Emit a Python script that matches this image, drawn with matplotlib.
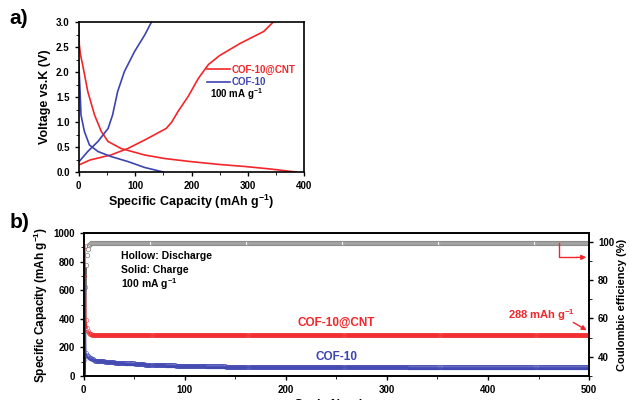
import matplotlib
matplotlib.use('Agg')
import matplotlib.pyplot as plt
from matplotlib.ticker import MultipleLocator

plt.rcParams['font.family'] = ['Liberation Sans', 'DejaVu Sans']
plt.rcParams['font.weight'] = 'bold'
plt.rcParams['mathtext.fontset'] = 'custom'
plt.rcParams['mathtext.bf'] = 'Liberation Sans:bold'
plt.rcParams['mathtext.rm'] = 'Liberation Sans:bold'
plt.rcParams['mathtext.default'] = 'rm'

RED = '#f2262a'
BLUE = '#3d44b0'
GRAY = '#808080'

# ---- panel a: voltage profiles ----
cnt_dis_x = [0, 1, 3, 7, 16, 28, 40, 52, 75, 117, 152, 197, 250, 295, 340, 385]
cnt_dis_v = [3.0, 2.55, 2.35, 2.14, 1.61, 1.14, 0.81, 0.61, 0.47, 0.34, 0.27, 0.21, 0.15, 0.11, 0.06, 0.0]
cnt_chg_x = [0, 20, 57, 87, 117, 155, 165, 176, 194, 212, 230, 250, 286, 328, 345]
cnt_chg_v = [0.14, 0.24, 0.34, 0.47, 0.64, 0.87, 1.0, 1.21, 1.51, 1.87, 2.15, 2.33, 2.57, 2.81, 3.0]
cof_dis_x = [0, 2, 4, 10, 19, 34, 57, 87, 117, 150]
cof_dis_v = [2.2, 1.7, 1.14, 0.81, 0.54, 0.41, 0.31, 0.21, 0.09, 0.0]
cof_chg_x = [0, 16, 34, 52, 60, 69, 81, 99, 117, 129]
cof_chg_v = [0.2, 0.41, 0.61, 0.87, 1.14, 1.61, 2.01, 2.41, 2.74, 3.0]

# ---- panel b: cycling ----
n_cycles = 500
cycles = list(range(1, n_cycles + 1))

cnt_dis_early = [910, 390, 335, 315, 303, 296, 292, 290, 289, 288]
cnt_chg_early = [700, 345, 318, 305, 298, 293, 290, 289, 288, 287]
cnt_dis_level = 288
cnt_chg_level = 287

cof_dis_early = [620, 160, 145, 138, 132, 127, 123, 120, 117, 115]
cof_chg_early = [112, 140, 135, 130, 126, 122, 119, 116, 114, 112]
# levels for every block of 10 cycles (cycles 11..500)
cof_levels = [108, 100, 94, 88, 84, 80, 77, 74, 72, 70,
              69, 68, 67, 66, 66, 65, 65, 64, 64, 64,
              63, 63, 63, 63, 62, 62, 62, 62, 62, 62,
              62, 61, 61, 61, 61, 61, 61, 61, 61, 60,
              60, 60, 60, 60, 60, 60, 60, 60, 60]

ce_early = [25, 88, 93, 96, 98, 99, 99.3, 99.5, 99.5, 99.5]
ce_level = 99.5

cnt_dis = cnt_dis_early + [cnt_dis_level] * (n_cycles - len(cnt_dis_early))
cnt_chg = cnt_chg_early + [cnt_chg_level] * (n_cycles - len(cnt_chg_early))
cof_dis = cof_dis_early + [v for v in cof_levels for _ in range(10)]
cof_chg = cof_chg_early + [v - 2 for v in cof_levels for _ in range(10)]
ce = ce_early + [ce_level] * (n_cycles - len(ce_early))

fig = plt.figure(figsize=(6.3, 4), dpi=100)

# panel a
ax1 = fig.add_axes([0.125, 0.57, 0.358, 0.375])
ax1.plot(cnt_dis_x, cnt_dis_v, color=RED, lw=1.2)
ax1.plot(cnt_chg_x, cnt_chg_v, color=RED, lw=1.2, label='COF-10@CNT')
ax1.plot(cof_dis_x, cof_dis_v, color=BLUE, lw=1.2)
ax1.plot(cof_chg_x, cof_chg_v, color=BLUE, lw=1.2, label='COF-10')
ax1.set_xlim(0, 400)
ax1.set_ylim(0, 3.0)
ax1.xaxis.set_major_locator(MultipleLocator(100))
ax1.xaxis.set_minor_locator(MultipleLocator(50))
ax1.yaxis.set_minor_locator(MultipleLocator(0.25))
ax1.set_yticks([0, 0.5, 1.0, 1.5, 2.0, 2.5, 3.0])
ax1.set_yticklabels(['0.0', '0.5', '1.0', '1.5', '2.0', '2.5', '3.0'])
ax1.tick_params(labelsize=7, width=1, length=3, direction='out')
ax1.tick_params(which='minor', length=2)
ax1.set_xlabel(r'Specific Capacity (mAh g$^{-1}$)', fontsize=9, fontweight='bold', labelpad=1)
ax1.set_ylabel('Voltage vs.K (V)', fontsize=9, fontweight='bold', labelpad=4)
for s in ax1.spines.values():
    s.set_linewidth(1.2)
leg = ax1.legend(loc='upper left', bbox_to_anchor=(0.55, 0.74), frameon=False,
                 fontsize=7, handlelength=2.4, handletextpad=0.2, labelspacing=0.25,
                 borderaxespad=0)
for t, c in zip(leg.get_texts(), [RED, BLUE]):
    t.set_color(c)
    t.set_fontweight('bold')
ax1.text(233, 1.55, r'100 mA g$^{-1}$', fontsize=7, fontweight='bold', va='center')
fig.text(0.015, 0.955, 'a)', fontsize=15, fontweight='bold', va='center')

# panel b
ax2 = fig.add_axes([0.133, 0.06, 0.802, 0.3575])
ax3 = ax2.twinx()
ax3.plot(cycles[:2], ce[:2], color='black', lw=1.2, zorder=1)
ax3.plot(cycles, ce, ls='none', marker='o', ms=3.2, mfc='white', mec=GRAY, mew=0.5)
ax2.plot(cycles, cnt_chg, ls='none', marker='o', ms=1.5, color=RED, alpha=0.35)
ax2.plot(cycles, cnt_dis, ls='none', marker='o', ms=3.2, mfc='none', mec=RED, mew=0.4, alpha=0.8)
ax2.plot(cycles[:3], cnt_dis[:3], color=RED, lw=1)
ax2.plot(cycles, cof_chg, ls='none', marker='o', ms=1.5, color=BLUE, alpha=0.35)
ax2.plot(cycles, cof_dis, ls='none', marker='o', ms=3.2, mfc='none', mec=BLUE, mew=0.4, alpha=0.8)
ax2.plot(cycles[:3], cof_dis[:3], color=BLUE, lw=1)
ax2.set_zorder(ax3.get_zorder() + 1)
ax2.patch.set_visible(False)

ax2.set_xlim(0, 500)
ax2.set_ylim(0, 1000)
ax3.set_ylim(30, 104.5)
ax2.xaxis.set_major_locator(MultipleLocator(100))
ax2.xaxis.set_minor_locator(MultipleLocator(50))
ax2.yaxis.set_major_locator(MultipleLocator(200))
ax2.yaxis.set_minor_locator(MultipleLocator(100))
ax3.set_yticks([40, 60, 80, 100])
ax3.yaxis.set_minor_locator(MultipleLocator(10))
for a in (ax2, ax3):
    a.tick_params(labelsize=7, width=1, length=3, direction='out')
    a.tick_params(which='minor', length=2)
for s in ax2.spines.values():
    s.set_linewidth(1.2)
for s in ax3.spines.values():
    s.set_linewidth(1.2)
ax2.set_xlabel('Cycle Number', fontsize=9, fontweight='bold', labelpad=3)
ax2.set_ylabel(r'Specific Capacity (mAh g$^{-1}$)', fontsize=8.5, fontweight='bold', labelpad=2)
ax3.set_ylabel('Coulombic efficiency (%)', fontsize=8, fontweight='bold', labelpad=2)

ax2.text(37, 840, 'Hollow: Discharge', fontsize=7.5, fontweight='bold', va='center')
ax2.text(37, 742, 'Solid: Charge', fontsize=7.5, fontweight='bold', va='center')
ax2.text(37, 645, r'100 mA g$^{-1}$', fontsize=7.5, fontweight='bold', va='center')
ax2.text(250, 375, 'COF-10@CNT', fontsize=8.5, fontweight='bold', color=RED, ha='center', va='center')
ax2.text(250, 135, 'COF-10', fontsize=8.5, fontweight='bold', color=BLUE, ha='center', va='center')
ax2.text(453, 425, r'288 mAh g$^{-1}$', fontsize=8, fontweight='bold', color=RED, ha='center', va='center')
ax2.annotate('', xy=(500, 310), xytext=(482, 385),
             arrowprops=dict(arrowstyle='-|>', color=RED, lw=1, mutation_scale=7))
ax3.plot([470, 470, 487], [99.5, 91.8, 91.8], color=RED, lw=1)
ax3.annotate('', xy=(500, 91.8), xytext=(485, 91.8),
             arrowprops=dict(arrowstyle='-|>', color=RED, lw=1, mutation_scale=7))
fig.text(0.015, 0.445, 'b)', fontsize=15, fontweight='bold', va='center')

fig.savefig('out.png', dpi=100)
